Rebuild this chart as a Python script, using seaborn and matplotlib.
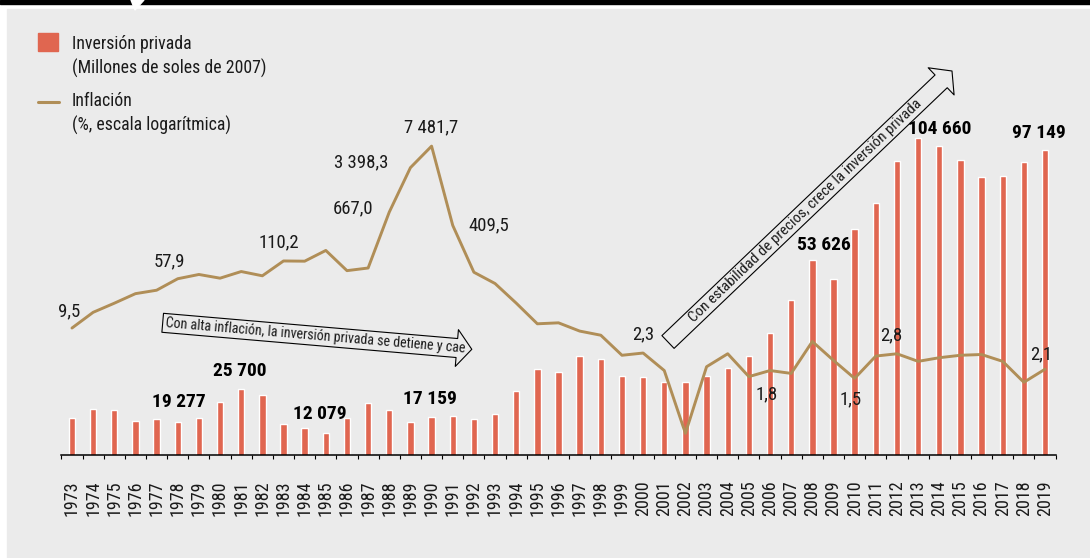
import numpy as np
import matplotlib
matplotlib.use("Agg")
import matplotlib.pyplot as plt
from matplotlib.patches import Rectangle, Polygon, FancyArrowPatch
from matplotlib.lines import Line2D
from matplotlib import font_manager
import seaborn as sns

# Datos: inversión privada (millones de soles de 2007) e inflación (%)
years = list(range(1973, 2020))
inversion = [16700, 19430, 19280, 15850, 16290, 15440, 16700, 21820, 25700, 23920,
             14810, 13650, 12079, 16790, 21320, 19300, 15350, 17159, 17230, 16480,
             18050, 25090, 32000, 31240, 36180, 35330, 29890, 29490, 28010, 28100,
             29890, 32310, 36180, 43400, 53626, 66340, 60470, 76080, 84350, 97540,
             104660, 102160, 97850, 92510, 92730, 97149, 100810]
inflacion = [9.5, 16.9, 23.6, 33.5, 38.0, 57.9, 67.7, 59.1, 75.4, 64.5,
             111.1, 110.2, 163.4, 77.9, 85.8, 667.0, 3398.3, 7481.7, 409.5, 73.5,
             48.6, 23.7, 11.1, 11.5, 8.5, 7.3, 3.5, 3.8, 2.0, 0.2,
             2.3, 3.7, 1.6, 2.0, 1.8, 5.8, 2.9, 1.5, 3.4, 3.7,
             2.8, 3.2, 3.5, 3.6, 2.8, 1.3, 2.1]

bar_label_years = [1978, 1981, 1985, 1990, 2008, 2013, 2019]
bar_label_texts = ["19 277", "25 700", "12 079", "17 159", "53 626", "104 660", "97 149"]
bar_label_offsets = [(1, 20), (-1, 18), (-6, 19), (-2, 18), (12, 15), (22, 9), (-6, 17)]

infl_label_years = [1973, 1978, 1984, 1988, 1989, 1990, 1991, 2003, 2007, 2010, 2013, 2019]
infl_label_texts = ["9,5", "57,9", "110,2", "667,0", "3 398,3", "7 481,7", "409,5",
                    "2,3", "1,8", "1,5", "2,8", "2,1"]
infl_label_offsets = [(-3, 17), (-8, 17), (-26, 19), (-36, 4), (-49, 5), (0, 19), (36, 0),
                      (-63, 32), (-24, -21), (-4, -21), (-27, 26), (-4, 15)]

BAR_COLOR = "#e06650"
LINE_COLOR = "#b08e57"
BG = "#ebebeb"
TXT = "#1a1a1a"

sns.set_theme(style="white")
installed = {f.name for f in font_manager.fontManager.ttflist}
narrow = [n for n in ["Roboto Condensed", "DejaVu Sans Condensed", "Liberation Sans Narrow",
                      "Roboto", "DejaVu Sans"] if n in installed]
plt.rcParams["font.family"] = narrow
plt.rcParams["text.color"] = TXT

W, H = 1090, 558


def fx(x):
    return x / W


def fy(y):
    return 1 - y / H


fig = plt.figure(figsize=(W / 100, H / 100), dpi=100, facecolor="white")

# fondo del panel, franja negra superior
fig.patches.append(Rectangle((fx(7), 0), 1 - fx(7), fy(8.5), transform=fig.transFigure,
                             color=BG, zorder=-10))
fig.patches.append(Rectangle((0, fy(3.5)), 1, 3.5 / H, transform=fig.transFigure,
                             color="black", zorder=-9))
fig.patches.append(Polygon([(fx(131), fy(0)), (fx(144), fy(0)), (fx(135), fy(10))],
                           closed=True, transform=fig.transFigure, color="white", zorder=-8))

ax = fig.add_axes([fx(61.4), 103 / H, 994.2 / W, 325 / H])
ax.set_facecolor("none")

sns.barplot(x=years, y=inversion, color=BAR_COLOR, saturation=1, width=0.3, ax=ax)
ax.set_ylim(5072, 107187)

ax2 = ax.twinx()
sns.lineplot(x=np.arange(len(years)), y=inflacion, color=LINE_COLOR, linewidth=2.1, ax=ax2)
ax2.set_yscale("log")
ax2.set_ylim(0.0904, 13520)
ax2.set_axis_off()
ax.set_xlim(-0.5, len(years) - 0.5)

# ejes
for s in ["left", "right", "top"]:
    ax.spines[s].set_visible(False)
ax.spines["bottom"].set_color("black")
ax.spines["bottom"].set_linewidth(1.1)
ax.set_yticks([])
ax.set_xlabel("")
ax.set_ylabel("")
ax.set_xticks(np.arange(-0.5, len(years), 1), minor=True)
ax.tick_params(axis="x", which="major", length=0, pad=18, labelsize=13,
               labelrotation=90, labelcolor=TXT)
ax.tick_params(axis="x", which="minor", length=3, width=0.8, color="black",
               direction="out", bottom=True)

# etiquetas de barras
for yr, txt, off in zip(bar_label_years, bar_label_texts, bar_label_offsets):
    i = years.index(yr)
    ax.annotate(txt, (i, inversion[i]), xytext=off, textcoords="offset pixels",
                ha="center", va="center", fontsize=14, fontweight="bold", color="black")

# etiquetas de inflación
for yr, txt, off in zip(infl_label_years, infl_label_texts, infl_label_offsets):
    i = years.index(yr)
    ax2.annotate(txt, (i, inflacion[i]), xytext=off, textcoords="offset pixels",
                 ha="center", va="center", fontsize=13.5, color=TXT)

# flechas de comentario
arrow1 = FancyArrowPatch((fx(162.7), fy(322.8)), (fx(471.8), fy(349.3)),
                         arrowstyle="simple,head_length=10.8,head_width=26.6,tail_width=13.7",
                         mutation_scale=1, shrinkA=0, shrinkB=0, transform=fig.transFigure,
                         fc="none", ec="black", lw=0.8)
fig.patches.append(arrow1)
fig.text(fx(315), fy(335.8), "Con alta inflación, la inversión privada se detiene y cae",
         rotation=-4.87, rotation_mode="anchor", ha="center", va="center", fontsize=10.1,
         color=TXT)

arrow2 = FancyArrowPatch((fx(668), fy(342)), (fx(952), fy(71)),
                         arrowstyle="simple,head_length=10.8,head_width=27,tail_width=12.7",
                         mutation_scale=1, shrinkA=0, shrinkB=0, transform=fig.transFigure,
                         fc="none", ec="black", lw=0.8)
fig.patches.append(arrow2)
fig.text(fx(805), fy(210.5), "Con estabilidad de precios, crece la inversión privada",
         rotation=43.7, rotation_mode="anchor", ha="center", va="center", fontsize=10.8,
         color=TXT)

# leyenda
fig.patches.append(Rectangle((fx(37.7), fy(51)), 20 / W, 17.7 / H, transform=fig.transFigure,
                             color=BAR_COLOR))
fig.lines.append(Line2D([fx(37.7), fx(59.3)], [fy(101.7), fy(101.7)], transform=fig.transFigure,
                        color=LINE_COLOR, linewidth=2.2))
for y, txt in [(44, "Inversión privada"), (68, "(Millones de soles de 2007)"),
               (101, "Inflación"), (125, "(%, escala logarítmica)")]:
    fig.text(fx(72), fy(y), txt, ha="left", va="center", fontsize=12.8, color=TXT)

fig.savefig("out.png", dpi=100, facecolor=fig.get_facecolor())
